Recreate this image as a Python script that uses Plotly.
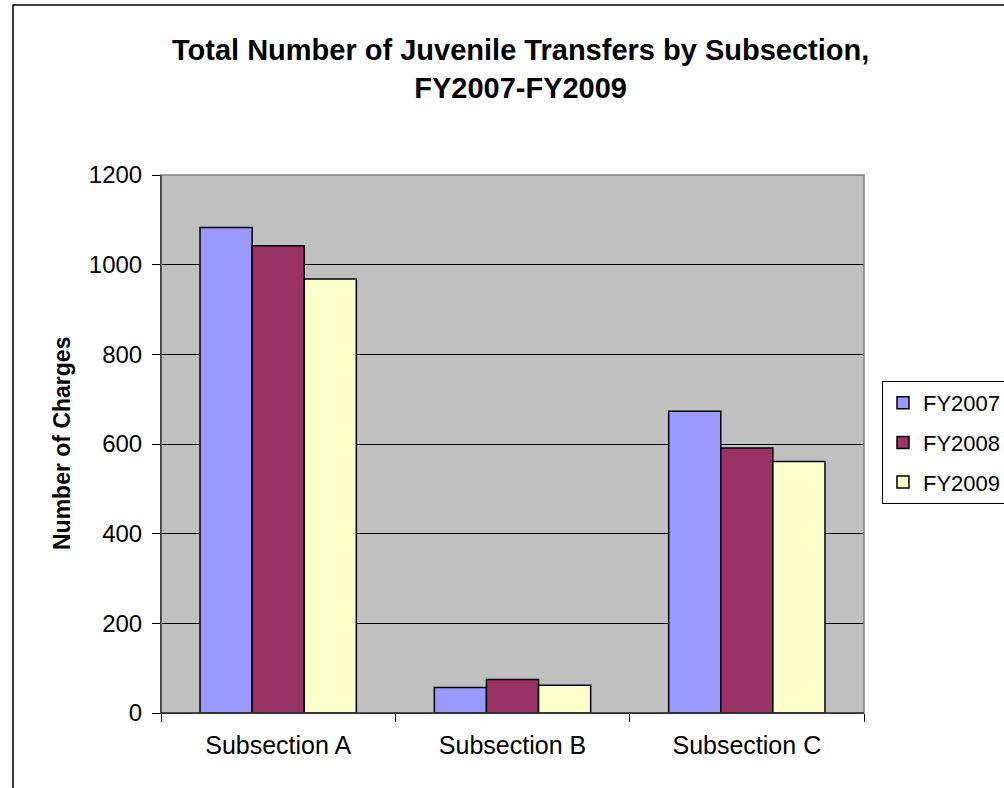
import plotly.graph_objects as go

categories = ["Subsection A", "Subsection B", "Subsection C"]
fy2007 = [1083, 57, 673]
fy2008 = [1042, 75, 591]
fy2009 = [968, 62, 561]
series_names = ["FY2007", "FY2008", "FY2009"]
series_colors = ["#9999FF", "#993366", "#FFFFCC"]
y_ticks = [0, 200, 400, 600, 800, 1000, 1200]

W, H = 1004, 788
L, R, T, B = 161, 864, 175, 713
FONT = "Liberation Sans, Arial, sans-serif"

fig = go.Figure()
for name, vals, col in zip(series_names, [fy2007, fy2008, fy2009], series_colors):
    fig.add_trace(go.Bar(
        x=categories, y=vals, name=name, legendgroup=name,
        marker=dict(color=col, line=dict(color="black", width=1.5)),
    ))

def px_x(p):
    return (p - L) / (R - L)

def px_y(p):
    return (B - p) / (B - T)

fig.update_layout(
    width=W, height=H,
    margin=dict(l=L, r=W - R, t=T, b=H - B, pad=0, autoexpand=False),
    paper_bgcolor="white",
    plot_bgcolor="#C0C0C0",
    barmode="group",
    bargap=0.333,
    bargroupgap=0,
    font=dict(family=FONT, color="black", size=24),
    showlegend=True,
    legend=dict(
        x=px_x(882), y=px_y(381), xanchor="left", yanchor="top",
        bordercolor="black", borderwidth=1, bgcolor="white",
        font=dict(size=22, family=FONT),
        tracegroupgap=8, itemwidth=30,
    ),
    xaxis=dict(
        showline=True, linecolor="black", linewidth=1,
        ticks="outside", ticklen=8, tickcolor="black", tickson="boundaries",
        tickfont=dict(size=25), showgrid=False, ticklabelstandoff=10,
    ),
    yaxis=dict(
        range=[0, 1200], tickvals=y_ticks, ticktext=[str(v) for v in y_ticks],
        showline=True, linecolor="black", linewidth=1,
        ticks="outside", ticklen=8, tickcolor="black",
        showgrid=True, gridcolor="black", gridwidth=1,
        tickfont=dict(size=24), zeroline=False, ticklabelstandoff=5,
    ),
    annotations=[
        dict(
            text="<b>Total Number of Juvenile Transfers by Subsection,<br>FY2007-FY2009</b>",
            xref="paper", yref="paper", x=px_x(520), y=px_y(69),
            xanchor="center", yanchor="middle", showarrow=False,
            font=dict(size=29, family=FONT),
        ),
        dict(
            text="<b>Number of Charges</b>", textangle=-90,
            xref="paper", yref="paper", x=px_x(62), y=0.5,
            xanchor="center", yanchor="middle", showarrow=False,
            font=dict(size=23, family=FONT),
        ),
    ],
    shapes=[
        dict(type="rect", xref="paper", yref="paper", x0=0, x1=1, y0=0, y1=1,
             line=dict(color="#808080", width=1.5), layer="above"),
        dict(type="line", xref="paper", yref="paper", x0=0, x1=0, y0=0, y1=1,
             line=dict(color="#404040", width=1.5), layer="above"),
        dict(type="line", xref="paper", yref="paper", x0=0, x1=1, y0=0, y1=0,
             line=dict(color="black", width=1), layer="above"),
        dict(type="rect", xref="paper", yref="paper",
             x0=px_x(13), x1=px_x(1040), y0=px_y(820), y1=px_y(5),
             line=dict(color="black", width=1.5), layer="above"),
    ],
)

fig.write_html("out.html", config={"displayModeBar": False},
               post_script="document.body.style.margin='0px';")
